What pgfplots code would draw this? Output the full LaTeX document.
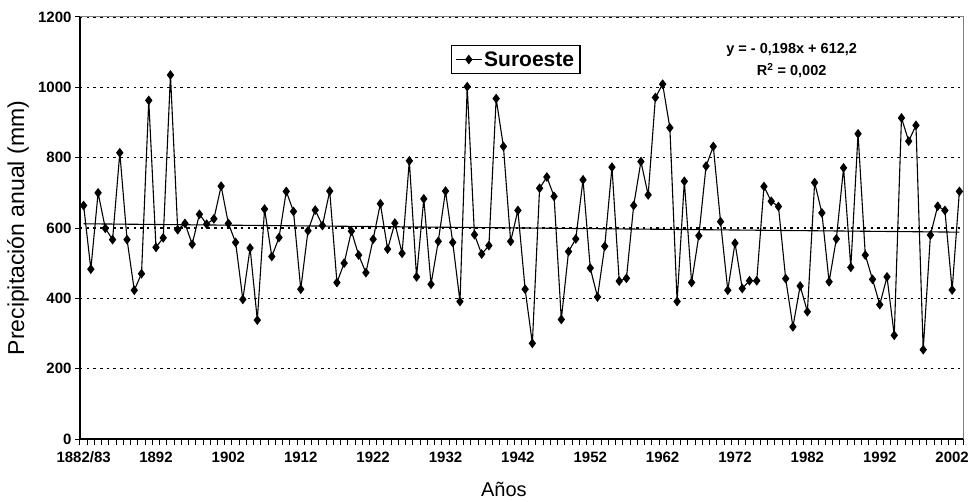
\documentclass[border=0pt]{standalone}
\usepackage{pgfplots}
\pgfplotsset{compat=1.18}
\usepackage{fontspec}
\setmainfont{Liberation Sans}

\pgfplotstableread{
i v
0 664
1 483
2 700
3 599
4 567
5 814
6 567
7 423
8 470
9 963
10 545
11 572
12 1035
13 595
14 613
15 554
16 639
17 611
18 626
19 719
20 613
21 559
22 397
23 543
24 338
25 654
26 519
27 573
28 704
29 647
30 426
31 592
32 651
33 607
34 705
35 445
36 500
37 591
38 523
39 473
40 568
41 669
42 540
43 614
44 528
45 791
46 461
47 683
48 440
49 562
50 705
51 559
52 391
53 1002
54 581
55 526
56 550
57 968
58 832
59 562
60 650
61 426
62 272
63 713
64 745
65 690
66 340
67 533
68 569
69 737
70 486
71 404
72 548
73 773
74 449
75 457
76 664
77 789
78 694
79 971
80 1009
81 885
82 391
83 733
84 445
85 578
86 776
87 832
88 618
89 423
90 557
91 428
92 450
93 450
94 718
95 676
96 661
97 456
98 319
99 435
100 362
101 729
102 643
103 447
104 569
105 771
106 488
107 868
108 523
109 454
110 382
111 461
112 295
113 913
114 847
115 892
116 254
117 580
118 662
119 650
120 424
121 704
}\suroeste

\begin{document}
\begin{tikzpicture}
\begin{axis}[
    scale only axis,
    width=883pt, height=422pt,
    xmin=-0.5, xmax=121.5,
    ymin=0, ymax=1200,
    axis x line*=bottom, axis y line*=left,
    axis line style={black, line width=1.4pt},
    xtick={0,10,...,120},
    xticklabels={1882/83,1892,1902,1912,1922,1932,1942,1952,1962,1972,1982,1992,2002},
    minor xtick={-0.5,0.5,...,121.5},
    major x tick style={draw=none},
    minor tick length=6pt,
    tick align=outside,
    ytick={0,200,...,1200},
    major tick length=5pt,
    tick style={black, line width=1pt},
    /pgf/number format/assume math mode=true,
    /pgf/number format/1000 sep={},
    tick label style={font=\fontsize{15}{17}\selectfont\bfseries},
    xticklabel style={yshift=-4pt},
    ymajorgrids,
    grid style={black, line width=1.3pt, dash pattern=on 2.5pt off 4.2pt},
    ylabel={Precipitación anual (mm)},
    xlabel={Años},
    xlabel style={font=\fontsize{20}{22}\selectfont,
        at={(axis description cs:0.48,0)}, yshift=-50pt, anchor=center},
    ylabel style={font=\fontsize{23}{26}\selectfont,
        at={(axis description cs:0,0.5)}, yshift=62pt, anchor=center},
    legend style={at={(axis description cs:0.42,0.934)}, anchor=north west,
        draw=black, line width=1.2pt, font=\fontsize{21}{23}\selectfont\bfseries,
        inner xsep=4pt, inner ysep=4pt},
    legend image code/.code={\draw[mark repeat=2,mark phase=2] plot coordinates {(0cm,0cm) (0.45cm,0cm) (0.9cm,0cm)};},
    clip=false,
]
\draw[gray, line width=1pt] (rel axis cs:0,1) -- (rel axis cs:1,1) -- (rel axis cs:1,0);
\addplot[black, line width=1.1pt, mark=diamond*, mark size=4pt, mark options={solid}]
    table[x=i, y=v] {\suroeste};
\addlegendentry{Suroeste}
\addplot[black, line width=1.1pt, forget plot] coordinates {(0,612.0) (121,588.2)};
\node[font=\fontsize{14.5}{22}\selectfont\bfseries, align=center]
    at (axis description cs:0.806,0.897) {y = - 0,198x + 612,2\\R\textsuperscript{2} = 0,002};
\end{axis}
\pgfresetboundingbox
\path (current axis.south west) ++(-80pt,-62pt) rectangle ++(972pt,501pt);
\end{tikzpicture}
\end{document}
